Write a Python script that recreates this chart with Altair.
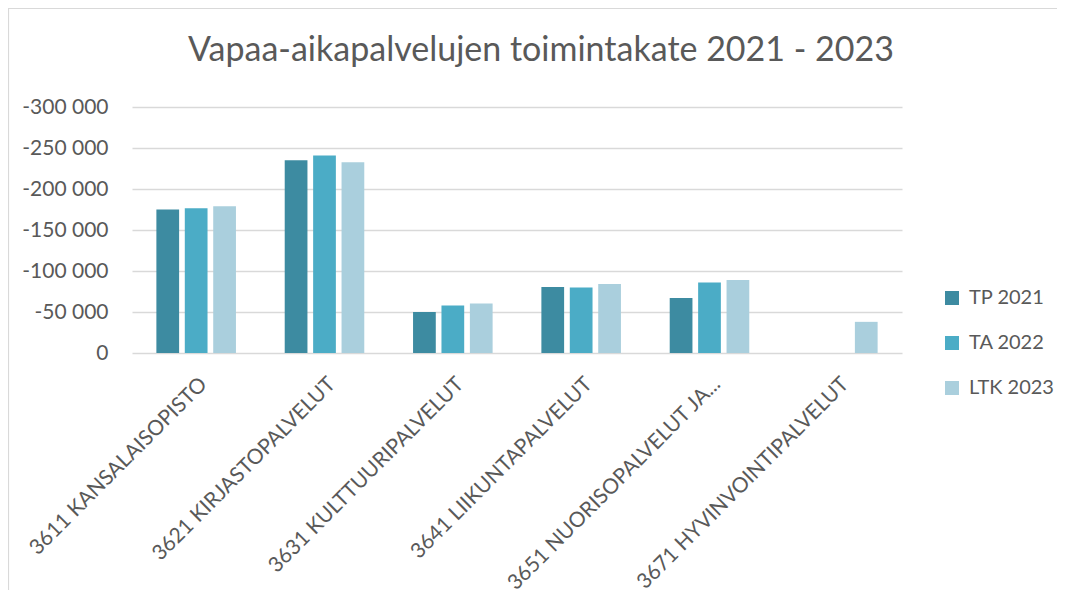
import altair as alt
import pandas as pd

categories = [
    "3611 KANSALAISOPISTO",
    "3621 KIRJASTOPALVELUT",
    "3631 KULTTUURIPALVELUT",
    "3641 LIIKUNTAPALVELUT",
    "3651 NUORISOPALVELUT JA...",
    "3671 HYVINVOINTIPALVELUT",
]
series = ["TP 2021", "TA 2022", "LTK 2023"]
tp_2021 = [-175000, -235000, -50000, -80500, -67000, None]
ta_2022 = [-176500, -241000, -58000, -79800, -86000, None]
ltk_2023 = [-179000, -232500, -60500, -84000, -89000, -38000]
y_ticks = [0, -50000, -100000, -150000, -200000, -250000, -300000]
colors = ["#3D8BA1", "#4BACC6", "#AACFDD"]

rows = []
for s, vals in zip(series, [tp_2021, ta_2022, ltk_2023]):
    for c, v in zip(categories, vals):
        if v is not None:
            rows.append({"category": c, "series": s, "value": v})
df = pd.DataFrame(rows)

FONT = "Lato"
TXT = "#595959"
FRAME = "#D9D9D9"

bars = (
    alt.Chart(df)
    .mark_bar()
    .encode(
        x=alt.X(
            "category:N",
            sort=categories,
            scale=alt.Scale(paddingInner=0.38, paddingOuter=0.19),
            axis=alt.Axis(
                title=None,
                labelAngle=-45,
                labelAlign="right",
                labelBaseline="top",
                labelPadding=20,
                ticks=False,
                tickSize=0,
                domain=False,
                grid=False,
                labelFont=FONT,
                labelFontSize=21,
                labelColor=TXT,
                labelLimit=0,
            ),
        ),
        xOffset=alt.XOffset(
            "series:N",
            sort=series,
            scale=alt.Scale(domain=series, paddingInner=0.2, paddingOuter=0),
        ),
        y=alt.Y(
            "value:Q",
            scale=alt.Scale(domain=[-300000, 0], reverse=True, nice=False),
            axis=alt.Axis(
                title=None,
                values=y_ticks,
                labelExpr="replace(replace(format(datum.value, ',d'), ',', ' '), '\u2212', '-')",
                ticks=False,
                tickSize=0,
                domain=False,
                grid=True,
                gridColor="#D9D9D9",
                gridWidth=1.3,
                labelPadding=24,
                labelFont=FONT,
                labelFontSize=21,
                labelColor=TXT,
            ),
        ),
        color=alt.Color(
            "series:N",
            sort=series,
            scale=alt.Scale(domain=series, range=colors),
            legend=alt.Legend(
                title=None,
                orient="none",
                legendX=810,
                legendY=181,
                padding=0,
                symbolType="square",
                symbolSize=196,
                symbolStrokeWidth=0,
                labelFont=FONT,
                labelFontSize=20,
                labelColor=TXT,
                labelOffset=7,
                rowPadding=25,
            ),
        ),
    )
)

# light chart-area frame (top and left edges, as in the reference)
frame_df = pd.DataFrame({"k": [0]})
frame_top = alt.Chart(frame_df).mark_rule(color=FRAME, strokeWidth=1.2).encode(
    x=alt.value(-124), x2=alt.value(925), y=alt.value(-98.5)
)
frame_left = alt.Chart(frame_df).mark_rule(color=FRAME, strokeWidth=1.2).encode(
    x=alt.value(-123.5), y=alt.value(-99), y2=alt.value(483)
)

chart = (
    alt.layer(frame_top, frame_left, bars)
    .properties(
        width=770,
        height=246,
        padding={"left": 124, "top": 99, "right": 155, "bottom": 237},
        autosize=alt.AutoSizeParams(type="none"),
        title=alt.TitleParams(
            "Vapaa-aikapalvelujen toimintakate 2021 - 2023",
            font=FONT,
            fontSize=34,
            fontWeight="normal",
            color=TXT,
            anchor="middle",
            dx=24,
            offset=-61,
        ),
    )
    .configure(background="white")
    .configure_view(stroke=None)
)

chart.save("out.html", embed_options={"renderer": "svg", "actions": False})
